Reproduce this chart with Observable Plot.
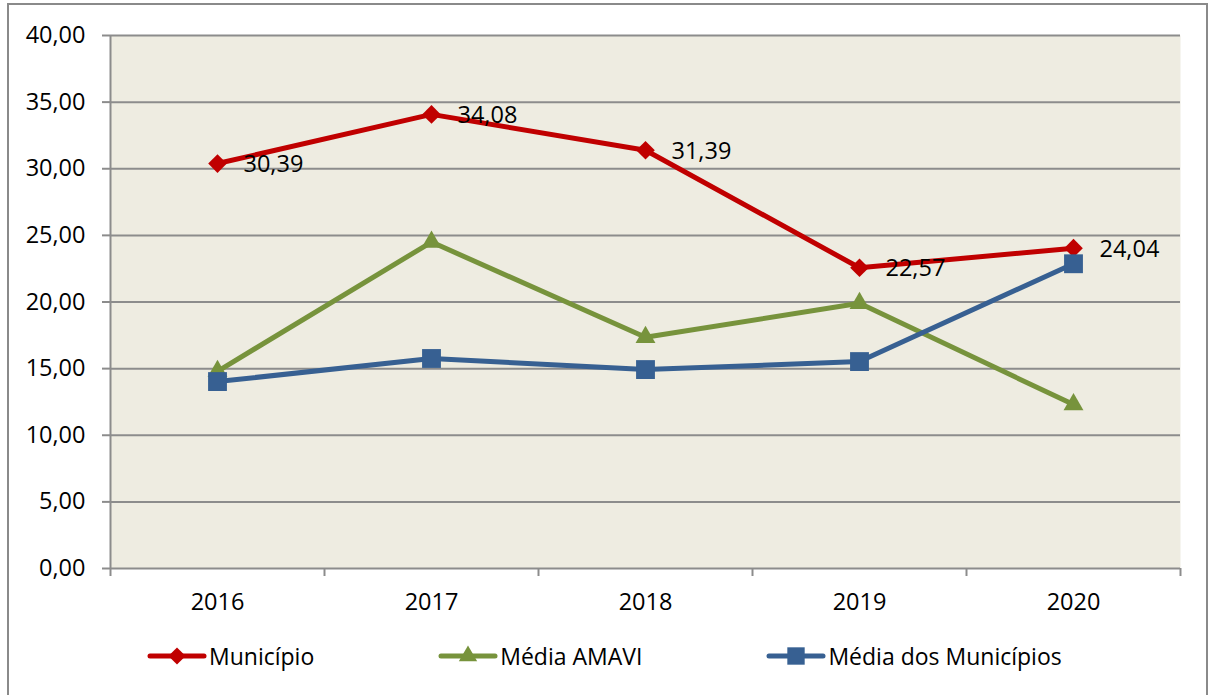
<!DOCTYPE html>
<html>
<head>
<meta charset="utf-8">
<script src="https://cdn.jsdelivr.net/npm/d3@7"></script>
<script src="https://cdn.jsdelivr.net/npm/@observablehq/plot@0.6"></script>
<style>
  html, body { margin: 0; padding: 0; background: #fff; }
  #wrap { position: relative; width: 1209px; height: 695px; overflow: hidden; font-family: "Open Sans", sans-serif; }
  #border { position: absolute; left: 7px; top: 3px; width: 1197px; height: 720px; border: 2px solid #8a8a8a; }
  #chart { position: absolute; left: 0; top: 0; }
  #legend { position: absolute; top: 640px; left: 146px; display: flex; align-items: center; gap: 123px; font-size: 23px; color: #000; }
  .item { display: flex; align-items: center; }
  .item svg { margin-right: 1px; }
</style>
</head>
<body>
<div id="wrap">
  <div id="border"></div>
  <div id="chart"></div>
  <div id="legend"></div>
</div>
<script>
const years = [2016, 2017, 2018, 2019, 2020];
const municipio = [30.39, 34.08, 31.39, 22.57, 24.04];
const mediaAmavi = [14.8, 24.5, 17.35, 19.9, 12.3];
const mediaMunicipios = [14.03, 15.76, 14.93, 15.53, 22.87];
const seriesNames = ["Município", "Média AMAVI", "Média dos Municípios"];
const seriesColors = ["#C00000", "#77933C", "#376092"];
const seriesSymbols = ["diamond2", "triangle2", "square2"];
const seriesR = [8.4, 9.5, 12];
const yTicks = d3.range(0, 41, 5);

const fmt = d => d.toFixed(2).replace(".", ",");
const allValues = [municipio, mediaAmavi, mediaMunicipios];
const data = allValues.flatMap((vals, i) => vals.map((v, j) => ({series: seriesNames[i], year: years[j], value: v})));
const boundaries = [...years.map(y => y - 0.5), years[years.length - 1] + 0.5];

const marks = [
  Plot.frame({fill: "#EEECE1", stroke: null}),
  Plot.ruleY(yTicks, {stroke: "#8c8c8c", strokeWidth: 2}),
  Plot.ruleX([boundaries[0]], {stroke: "#8c8c8c", strokeWidth: 2}),
  Plot.axisY({ticks: yTicks, tickSize: 8, tickPadding: 17, tickFormat: fmt, fontSize: 23.5, stroke: "#8c8c8c", strokeWidth: 2, color: "#000", label: null}),
  Plot.axisX({ticks: boundaries, tickSize: 8, tickFormat: () => "", stroke: "#8c8c8c", strokeWidth: 2, label: null}),
  Plot.axisX({ticks: years, tickSize: 0, tickPadding: 25, tickFormat: d => String(d), fontSize: 23.5, color: "#000", label: null}),
];
seriesNames.forEach((name, i) => {
  const d = data.filter(r => r.series === name);
  marks.push(Plot.line(d, {x: "year", y: "value", stroke: seriesColors[i], strokeWidth: 5}));
});
seriesNames.forEach((name, i) => {
  const d = data.filter(r => r.series === name);
  marks.push(Plot.dot(d, {x: "year", y: "value", symbol: () => seriesSymbols[i], r: seriesR[i], fill: seriesColors[i], stroke: "none"}));
});
marks.push(Plot.text(data.filter(r => r.series === seriesNames[0]), {x: "year", y: "value", text: d => fmt(d.value), dx: 26, dy: 1, textAnchor: "start", fontSize: 23.5, fill: "#000"}));

const chart = Plot.plot({
  width: 1209,
  height: 630,
  marginLeft: 110,
  marginRight: 29,
  marginTop: 35,
  marginBottom: 62,
  style: {fontFamily: "Open Sans, sans-serif", background: "transparent", overflow: "visible"},
  x: {type: "linear", domain: [boundaries[0], boundaries[boundaries.length - 1]]},
  y: {domain: [0, 40]},
  symbol: {type: "identity"},
  marks
});
document.getElementById("chart").appendChild(chart);

// legend
const legend = d3.select("#legend");
seriesNames.forEach((name, i) => {
  const item = legend.append("div").attr("class", "item");
  const s = item.append("svg").attr("width", 62).attr("height", 26);
  s.append("line").attr("x1", 4).attr("x2", 58).attr("y1", 13).attr("y2", 13)
    .attr("stroke", seriesColors[i]).attr("stroke-width", 5).attr("stroke-linecap", "round");
  s.append("path").attr("transform", "translate(31,13)")
    .attr("d", d3.symbol(d3["symbol" + seriesSymbols[i][0].toUpperCase() + seriesSymbols[i].slice(1, -1) + "2"], Math.PI * seriesR[i] * seriesR[i] * 0.85)())
    .attr("fill", seriesColors[i]);
  item.append("span").text(name);
});
</script>
</body>
</html>
